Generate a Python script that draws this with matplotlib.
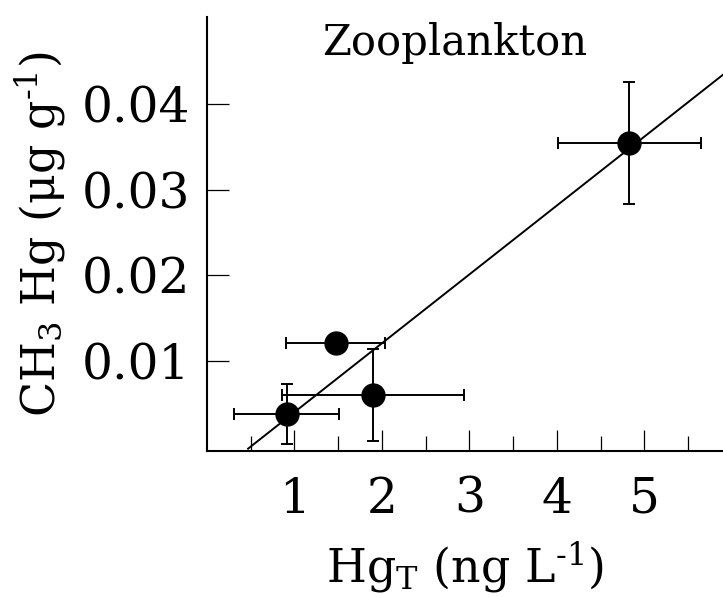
import matplotlib
matplotlib.use('Agg')
import matplotlib.pyplot as plt
from matplotlib.ticker import FixedLocator

plt.rcParams['font.family'] = ['DejaVu Serif']
plt.rcParams['mathtext.fontset'] = 'dejavuserif'

# Zooplankton: total Hg in water vs methyl Hg in zooplankton
hgt = [0.91, 1.47, 1.90, 4.83]
hgt_err = [0.60, 0.57, 1.04, 0.82]
mehg = [0.0038, 0.0121, 0.0060, 0.0355]
mehg_err = [0.0035, 0.0006, 0.0054, 0.0071]

# regression line
fit_slope = 0.00805
fit_intercept = -0.00404
fit_x = [0.47, 5.9]

fig = plt.figure(figsize=(7.23, 5.97), dpi=100)
ax = fig.add_axes([0.2863, 0.245, 0.7137, 0.7265])

fit_y = [fit_slope * x + fit_intercept for x in fit_x]
ax.plot(fit_x, fit_y, color='black', lw=1.4)

ax.errorbar(hgt, mehg, xerr=hgt_err, yerr=mehg_err, fmt='o', color='black',
            ms=16.5, elinewidth=1.4, capsize=4.4, capthick=1.4)

ax.set_xlim(0, 5.9)
ax.set_ylim(-0.0005, 0.0502)

ax.xaxis.set_major_locator(FixedLocator([1, 2, 3, 4, 5]))
ax.xaxis.set_minor_locator(FixedLocator([0.5, 1.5, 2.5, 3.5, 4.5, 5.5]))
ax.yaxis.set_major_locator(FixedLocator([0.01, 0.02, 0.03, 0.04]))
ax.set_yticklabels(['0.01', '0.02', '0.03', '0.04'])

ax.tick_params(axis='x', which='major', direction='in', length=15, width=0.9,
               labelsize=35, pad=18)
ax.tick_params(axis='x', which='minor', direction='in', length=10.5, width=0.9)
ax.tick_params(axis='y', which='major', direction='in', length=16, width=0.9,
               labelsize=35, pad=12)

for side in ['top', 'right']:
    ax.spines[side].set_visible(False)
for side in ['left', 'bottom']:
    ax.spines[side].set_linewidth(1.5)

ax.set_xlabel(r'Hg$_\mathrm{T}$ (ng L$^{\text{-}1}$)', fontsize=33, labelpad=12)
ax.set_ylabel(r'CH$_3$ Hg (μg g$^{\text{-}1}$)', fontsize=33, labelpad=10)
ax.text(0.48, 0.988, 'Zooplankton', transform=ax.transAxes, ha='center',
        va='top', fontsize=30)

fig.savefig('out.png', dpi=100)
